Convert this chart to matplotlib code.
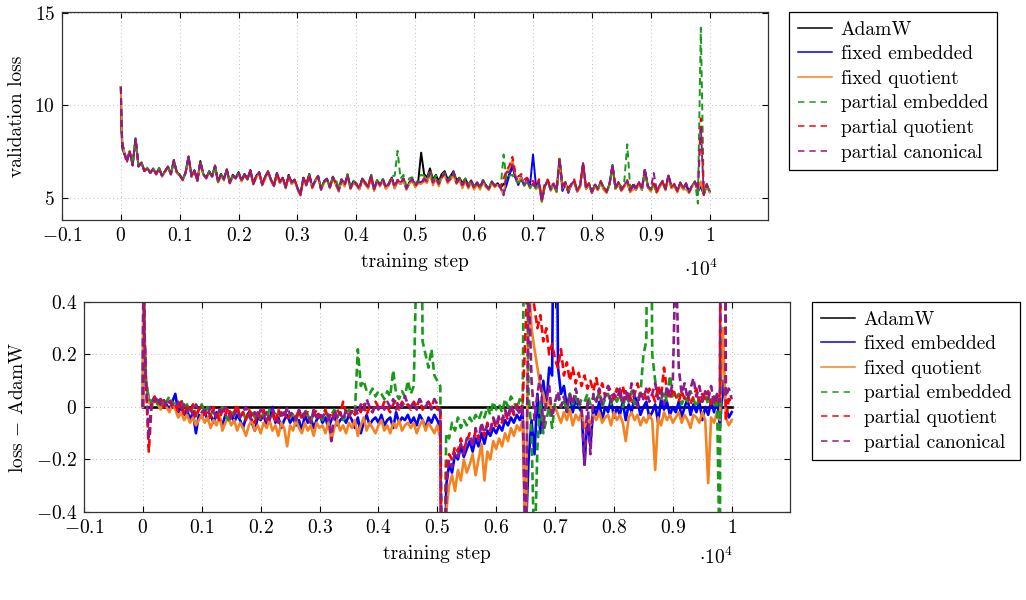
import numpy as np
import matplotlib.pyplot as plt
from matplotlib.ticker import FuncFormatter

plt.rcParams['font.family'] = 'serif'
plt.rcParams['font.serif'] = ['cmr10']
plt.rcParams['mathtext.fontset'] = 'cm'
plt.rcParams['axes.formatter.use_mathtext'] = True
plt.rcParams['font.size'] = 14

# evaluation steps: a few early ones, then every 50 steps
steps = [0, 10, 25] + list(range(50, 10001, 50))

# validation loss of the AdamW baseline (top panel)
adamw = [11.0, 8.6, 7.7,
    7.45, 7.05, 7.5, 6.75, 8.2, 6.7, 6.9, 6.45, 6.6, 6.35,
    6.55, 6.3, 6.6, 6.2, 6.45, 6.7, 6.3, 7.05, 6.4, 6.25,
    6.0, 6.4, 7.25, 6.2, 6.5, 5.95, 7.0, 6.3, 6.1, 6.45,
    6.2, 6.75, 5.9, 6.3, 6.05, 6.55, 5.85, 6.25, 6.1, 6.4,
    5.95, 6.3, 6.05, 6.5, 5.8, 6.2, 6.4, 5.75, 6.15, 6.45,
    6.0, 5.7, 6.35, 5.9, 6.1, 5.6, 6.25, 5.85, 6.0, 5.55,
    5.2, 6.1, 5.75, 6.3, 5.6, 5.95, 6.2, 5.5, 5.9, 6.05,
    5.6, 6.15, 5.8, 5.45, 6.0, 5.7, 6.25, 5.55, 5.9, 5.75,
    5.5, 6.05, 5.8, 5.6, 6.2, 5.45, 5.95, 5.7, 6.0, 5.55,
    5.75, 6.1, 5.6, 5.95, 5.8, 6.05, 5.5, 5.85, 6.0, 5.65,
    5.9, 7.45, 6.3, 6.1, 6.6, 6.0, 6.25, 5.9, 6.3, 6.45,
    6.0, 6.2, 6.45, 5.95, 6.1, 5.8, 6.05, 5.7, 5.95, 5.6,
    5.85, 5.6, 5.95, 5.7, 5.5, 5.9, 5.65, 5.8, 5.55, 5.75,
    5.9, 6.3, 6.85, 6.1, 5.8, 6.05, 5.7, 5.9, 5.6, 5.75,
    5.5, 5.8, 4.8, 5.65, 5.9, 5.45, 5.7, 5.35, 7.1, 5.6,
    5.8, 5.45, 5.7, 5.9, 5.35, 5.65, 6.85, 5.5, 5.75, 5.3,
    5.7, 5.45, 5.85, 5.55, 5.3, 5.75, 6.75, 5.5, 5.8, 5.4,
    5.65, 5.9, 5.35, 5.7, 5.5, 5.8, 5.45, 6.5, 5.6, 5.4,
    5.75, 5.3, 5.65, 5.85, 5.45, 6.2, 5.55, 5.7, 5.35, 5.8,
    5.5, 5.75, 5.3, 5.65, 5.85, 5.4, 5.6, 5.2, 5.7, 5.35]

# loss - AdamW for the other optimizers (bottom panel)
fixed_embedded = [0.0, 0.55, 0.26,
    0.10, 0.03, 0.01, 0.03, 0.02, 0.0, 0.025, 0.01, -0.01, 0.02,
    0.05, -0.02, 0.0, -0.03, -0.01, -0.05, -0.02, -0.10, -0.03, -0.04,
    -0.02, -0.05, -0.03, -0.06, -0.02, -0.04, -0.07, -0.03, -0.05, -0.02,
    -0.06, -0.03, -0.05, -0.08, -0.04, -0.02, -0.06, -0.09, -0.04, -0.05,
    -0.03, -0.07, -0.05, 0.0, -0.06, -0.04, -0.08, -0.05, -0.03, -0.06,
    -0.04, -0.07, -0.05, -0.09, -0.03, -0.06, -0.04, -0.08, -0.05, -0.03,
    -0.06, -0.04, -0.08, -0.05, -0.03, -0.07, -0.05, -0.04, -0.06, -0.03,
    -0.05, -0.08, -0.04, -0.10, -0.06, -0.03, -0.07, -0.05, -0.04, -0.06,
    -0.03, -0.07, -0.05, -0.04, -0.08, -0.02, -0.06, -0.04, -0.05, -0.03,
    -0.06, -0.04, -0.07, -0.03, -0.05, -0.08, -0.04, -0.06, -0.03, -0.05,
    -0.08, -1.6, -0.3, -0.22, -0.25, -0.18, -0.2, -0.15, -0.19, -0.16,
    -0.13, -0.17, -0.12, -0.15, -0.1, -0.14, -0.09, -0.11, -0.08, -0.1,
    -0.07, -0.09, -0.05, -0.07, -0.04, -0.06, -0.03, -0.05, -0.02, -0.5,
    -0.2, -0.05, -0.18, 0.05, -0.1, 0.1, 0.0, 0.15, 0.12, 1.6,
    0.15, 0.05, 0.08, 0.0, 0.05, -0.02, 0.03, 0.0, -0.02, -0.22,
    -0.04, -0.15, 0.0, -0.03, 0.02, -0.05, 0.0, -0.02, 0.03, -0.04,
    0.0, -0.03, 0.02, -0.05, 0.01, -0.02, 0.04, 0.02, -0.03, 0.0,
    0.02, -0.04, -0.02, 0.01, -0.06, 0.03, -0.01, 0.02, -0.03, 0.0,
    -0.02, 0.02, -0.04, 0.0, 0.03, -0.03, 0.01, -0.02, 0.02, -0.05,
    0.0, -0.03, 0.02, -0.02, 0.04, -0.08, 0.1, 0.0, -0.04, -0.02]

fixed_quotient = [0.0, 0.6, 0.3,
    0.11, 0.02, 0.0, 0.03, 0.01, -0.01, 0.02, 0.0, -0.02, 0.01,
    -0.01, -0.04, -0.02, -0.05, -0.03, -0.06, -0.04, -0.07, -0.05, -0.03,
    -0.06, -0.04, -0.08, -0.05, -0.07, -0.03, -0.09, -0.06, -0.04, -0.07,
    -0.05, -0.09, -0.06, -0.08, -0.11, -0.07, -0.05, -0.09, -0.07, -0.10,
    -0.06, -0.08, -0.05, -0.09, -0.07, -0.11, -0.06, -0.08, -0.15, -0.07,
    -0.09, -0.05, -0.08, -0.1, -0.06, -0.09, -0.07, -0.11, -0.06, -0.08,
    -0.07, -0.1, -0.06, -0.13, -0.08, -0.05, -0.09, -0.07, -0.1, -0.06,
    -0.08, -0.05, -0.11, -0.07, -0.04, -0.09, -0.06, -0.08, -0.1, -0.07,
    -0.05, -0.09, -0.07, -0.1, -0.06, -0.08, -0.05, -0.09, -0.07, -0.06,
    -0.08, -0.06, -0.1, -0.07, -0.05, -0.09, -0.06, -0.08, -0.1, -0.07,
    -0.12, -1.7, -0.4, -0.3, -0.26, -0.32, -0.24, -0.28, -0.2, -0.25,
    -0.22, -0.18, -0.26, -0.2, -0.14, -0.28, -0.17, -0.2, -0.13, -0.16,
    -0.12, -0.15, -0.1, -0.13, -0.08, -0.11, -0.07, -0.09, -0.05, -0.6,
    0.5, 0.3, 0.22, 0.15, 0.08, 0.05, 0.0, 0.03, -0.02, 0.0,
    -0.03, -0.06, -0.02, -0.05, -0.01, -0.07, -0.03, -0.05, -0.02, -0.08,
    -0.04, -0.07, -0.03, -0.05, -0.02, -0.06, -0.04, -0.03, -0.07, -0.02,
    -0.05, -0.03, -0.06, -0.13, -0.04, -0.02, -0.05, -0.03, -0.07, -0.04,
    -0.06, -0.03, -0.05, -0.24, -0.04, -0.07, -0.02, -0.05, -0.03, -0.06,
    -0.04, -0.02, -0.06, -0.03, -0.05, -0.08, -0.03, -0.04, -0.06, -0.02,
    -0.05, -0.29, -0.04, -0.06, -0.02, -0.05, 0.3, -0.04, -0.07, -0.05]

partial_embedded = [0.0, 0.5, 0.25,
    0.09, 0.03, 0.02, 0.04, 0.01, 0.03, 0.0, 0.02, 0.04, 0.01,
    0.02, 0.0, 0.03, -0.01, 0.01, -0.02, 0.0, -0.03, -0.01, 0.01,
    -0.02, 0.0, -0.03, -0.01, -0.04, -0.02, 0.0, -0.03, -0.05, -0.02,
    -0.03, -0.01, -0.04, -0.02, -0.05, -0.03, -0.01, -0.04, -0.02, -0.05,
    -0.02, -0.04, -0.01, -0.03, -0.05, -0.02, -0.04, -0.03, -0.01, -0.04,
    -0.03, -0.05, -0.02, -0.04, -0.01, -0.03, -0.06, -0.02, -0.04, -0.03,
    -0.05, -0.02, -0.04, -0.03, -0.01, -0.04, -0.02, -0.05, -0.03, -0.01,
    -0.03, -0.02, 0.22, 0.08, 0.1, 0.06, 0.05, 0.07, 0.04, 0.06,
    0.05, 0.03, 0.06, 0.04, 0.14, 0.05, 0.03, 0.06, 0.04, 0.1,
    0.05, 0.08, 0.6, 1.6, 0.25, 0.2, 0.15, 0.22, 0.12, 0.1,
    0.08, -1.2, -0.1, -0.12, -0.06, -0.09, -0.04, -0.08, -0.05, -0.07,
    -0.04, -0.06, -0.03, -0.05, -0.02, -0.04, 0.0, -0.03, 0.02, -0.01,
    0.01, -0.02, 0.03, 0.0, 0.04, 0.02, -0.01, 0.03, 0.01, 1.6,
    0.05, -0.1, -0.6, -0.15, 0.02, -0.1, -0.05, 0.0, -0.08, 0.02,
    0.04, 0.0, 0.03, -0.02, 0.05, 0.01, 0.04, 0.0, 0.03, 0.02,
    0.05, 0.01, 0.04, 0.02, 0.06, 0.0, 0.03, 0.05, 0.01, 0.04,
    0.02, 0.05, 0.0, 0.04, 0.02, 0.06, 0.01, 0.03, 0.05, 0.2,
    0.25, 2.0, 0.2, 0.1, 0.05, 0.03, 0.06, 0.02, 0.12, 0.04,
    0.03, 0.05, 0.01, 0.04, 0.02, 0.06, 0.03, 0.0, 0.04, 0.02,
    0.05, 0.01, 0.03, 0.0, 0.04, -0.7, 8.6, 0.02, 0.03, 0.01]

partial_quotient = [0.0, 0.6, 0.3,
    0.1, -0.17, 0.02, 0.04, 0.01, 0.03, 0.0, 0.02, 0.03, 0.0,
    0.01, -0.02, 0.02, -0.03, 0.0, -0.02, 0.01, -0.04, -0.01, 0.0,
    -0.03, -0.01, -0.04, 0.0, -0.02, -0.05, -0.01, -0.03, 0.0, -0.04,
    -0.02, 0.01, -0.04, -0.02, -0.05, -0.01, -0.03, -0.06, -0.02, -0.04,
    -0.01, -0.05, -0.03, -0.02, -0.06, -0.01, -0.04, -0.02, -0.05, -0.03,
    -0.02, -0.04, -0.01, -0.05, -0.03, -0.02, -0.06, -0.03, -0.01, -0.04,
    -0.03, -0.01, -0.05, -0.02, -0.04, -0.01, -0.03, 0.02, -0.02, -0.04,
    -0.01, -0.03, 0.0, -0.02, 0.01, -0.03, 0.0, -0.02, 0.02, 0.0,
    -0.01, 0.02, 0.0, -0.02, 0.01, 0.03, -0.01, 0.02, 0.0, 0.01,
    -0.01, 0.02, 0.0, 0.03, -0.01, 0.01, 0.02, 0.0, 0.03, -0.01,
    0.0, -1.6, -0.22, -0.18, -0.2, -0.15, -0.17, -0.12, -0.16, -0.13,
    -0.1, -0.14, -0.09, -0.12, -0.07, -0.11, -0.06, -0.09, -0.05, -0.08,
    -0.04, -0.06, -0.02, -0.05, 0.0, -0.03, 0.01, -0.02, 0.02, 0.3,
    0.6, 0.45, 0.38, 0.3, 0.35, 0.25, 0.3, 0.2, 0.24, 0.18,
    0.15, 0.22, 0.12, 0.17, 0.1, 0.15, 0.09, 0.13, 0.08, 0.12,
    0.07, 0.1, 0.06, 0.11, 0.05, 0.09, 0.04, 0.08, 0.06, 0.03,
    0.07, 0.04, 0.08, 0.03, 0.06, 0.02, 0.05, 0.09, 0.04, 0.06,
    0.03, 0.07, 0.05, 0.02, 0.08, 0.04, 0.15, 0.06, 0.03, 0.07,
    0.04, 0.02, 0.06, 0.03, 0.05, 0.01, 0.04, 0.07, 0.02, 0.05,
    0.03, 0.06, 0.01, 0.04, 0.02, 0.05, 3.7, -0.05, 0.03, 0.02]

partial_canonical = [0.0, 0.65, 0.3,
    0.11, -0.12, 0.03, 0.02, 0.04, 0.01, 0.03, 0.0, 0.02, 0.01,
    0.0, 0.02, -0.01, 0.01, -0.02, 0.0, -0.03, 0.01, -0.01, -0.02,
    -0.01, -0.03, 0.0, -0.02, -0.04, -0.01, -0.03, 0.0, -0.02, -0.05,
    -0.03, -0.01, -0.04, -0.02, 0.0, -0.03, -0.05, -0.02, -0.04, -0.01,
    -0.04, -0.02, -0.05, -0.01, -0.03, -0.06, -0.02, -0.04, 0.0, -0.03,
    -0.02, -0.05, -0.01, -0.04, -0.02, -0.03, -0.06, -0.01, -0.04, -0.02,
    -0.04, -0.02, -0.03, -0.13, -0.01, -0.04, -0.02, -0.05, -0.01, -0.03,
    -0.02, 0.0, -0.03, 0.01, -0.01, 0.03, 0.0, -0.02, 0.01, -0.01,
    0.01, -0.01, 0.02, 0.0, 0.03, -0.01, 0.02, 0.0, 0.04, 0.01,
    0.0, 0.02, -0.01, 0.03, 0.01, 0.0, 0.02, -0.01, 0.03, 0.01,
    -0.02, -1.7, -0.3, -0.2, -0.23, -0.17, -0.19, -0.14, -0.18, -0.12,
    -0.11, -0.15, -0.08, -0.13, -0.06, -0.1, -0.07, -0.09, -0.04, -0.07,
    -0.03, -0.05, -0.01, -0.04, 0.01, -0.02, 0.0, -0.03, 0.01, -0.6,
    0.5, 0.1, -0.05, 0.05, 0.12, -0.08, 0.03, 0.08, -0.04, 0.02,
    0.06, 0.0, 0.04, -0.02, 0.05, 0.01, 0.07, 0.02, 0.0, -0.22,
    0.03, -0.18, 0.05, 0.02, 0.07, 0.01, 0.04, 0.08, 0.02, 0.05,
    0.03, 0.07, 0.01, 0.06, 0.02, 0.09, 0.04, 0.0, 0.06, 0.03,
    0.07, 0.02, 0.05, 0.09, 0.03, 0.06, 0.01, 0.08, 0.04, 0.1,
    0.6, 0.15, 0.05, 0.09, 0.03, 0.07, 0.11, 0.04, 0.08, 0.02,
    0.06, 0.03, 0.08, 0.01, 0.05, 0.02, 3.2, 0.04, 0.07, 0.03]

labels = ['AdamW', 'fixed embedded', 'fixed quotient',
          'partial embedded', 'partial quotient', 'partial canonical']
colors = ['black', '#0000ff', '#f58220', '#1a9a1a', '#ff0000', '#8e1a8e']
dashed = [False, False, False, True, True, True]


def tick_fmt(v, pos):
    s = '%g' % round(v, 6)
    if s == '-0':
        s = '0'
    return '$' + s + '$'


def style_axes(ax):
    ax.set_xlim(-0.1, 1.099)
    ax.set_xticks([-0.1, 0, 0.1, 0.2, 0.3, 0.4, 0.5, 0.6, 0.7, 0.8, 0.9, 1.0])
    ax.xaxis.set_major_formatter(FuncFormatter(tick_fmt))
    ax.yaxis.set_major_formatter(FuncFormatter(tick_fmt))
    ax.tick_params(direction='in', top=True, right=True, length=4, width=0.8,
                   labelsize=14, pad=5)
    ax.grid(True, linestyle=(0, (1, 3)), color='#bbbbbb', linewidth=0.7)
    for sp in ax.spines.values():
        sp.set_linewidth(0.9)
        sp.set_color('#333333')


x = np.array(steps) / 1e4
base = np.array(adamw)
diffs = [base - base,
         np.array(fixed_embedded), np.array(fixed_quotient),
         np.array(partial_embedded), np.array(partial_quotient),
         np.array(partial_canonical)]

fig = plt.figure(figsize=(10.26, 6.0), dpi=100)
ax1 = fig.add_axes([0.0604, 0.6333, 0.6881, 0.3467])
ax2 = fig.add_axes([0.0819, 0.1467, 0.6881, 0.3500])

for d, lab, c, ds in zip(diffs, labels, colors, dashed):
    kw = dict(color=c, label=lab)
    if ds:
        ax1.plot(x, base + d, lw=1.4, dashes=(3.5, 2.2), **kw)
        ax2.plot(x, d, lw=1.9, dashes=(3.0, 1.6), **kw)
    else:
        ax1.plot(x, base + d, lw=1.4, **kw)
        ax2.plot(x, d, lw=1.9, **kw)

style_axes(ax1)
ax1.set_ylim(3.81, 15.05)
ax1.set_yticks([5, 10, 15])
ax1.set_xlabel('training step', labelpad=6)
ax1.set_ylabel('validation loss', labelpad=6)
ax1.text(0.905, -0.235, r'$\cdot 10^4$', transform=ax1.transAxes,
         ha='center', va='center', fontsize=14)

style_axes(ax2)
ax2.set_ylim(-0.4, 0.4)
ax2.set_yticks([-0.4, -0.2, 0, 0.2, 0.4])
ax2.set_xlabel('training step', labelpad=6)
ax2.set_ylabel(r'loss $-$ AdamW', labelpad=6)
ax2.text(0.895, -0.215, r'$\cdot 10^4$', transform=ax2.transAxes,
         ha='center', va='center', fontsize=14)

leg_kw = dict(loc='upper left', frameon=True, fancybox=False, edgecolor='black',
              framealpha=1, fontsize=14, handlelength=1.75, handletextpad=0.45,
              labelspacing=0.34, borderpad=0.45, borderaxespad=0)
for ax, anchor in [(ax1, (789 / 1026, 1 - 12 / 600)),
                   (ax2, (812 / 1026, 1 - 302 / 600))]:
    h, l = ax.get_legend_handles_labels()
    lg = fig.legend(h, l, bbox_to_anchor=anchor, **leg_kw)
    lg.get_frame().set_linewidth(0.9)
    for line, ds in zip(lg.get_lines(), dashed):
        line.set_linewidth(1.1)
        if ds:
            line.set_dashes((4.2, 3.2))

fig.savefig('out.png', dpi=100)
